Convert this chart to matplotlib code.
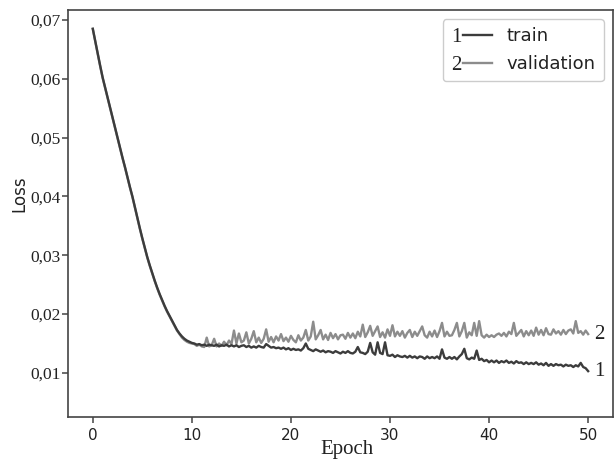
import numpy as np
import matplotlib
matplotlib.use("Agg")
import matplotlib.pyplot as plt
from matplotlib.lines import Line2D
from matplotlib.text import Text
from matplotlib.legend_handler import HandlerBase
from matplotlib.ticker import FuncFormatter

# ---------------- data (loss values in units of 1e-4) ----------------
epochs = np.linspace(0, 50, 201)  # 4 samples per epoch

train_descent = [685, 664, 643, 622, 602, 585, 568, 551, 534, 517, 500, 483, 466, 450, 433,
                 416, 400, 382, 364, 346, 329, 313, 297, 283, 270, 257, 245, 234, 224, 214,
                 205, 197, 189, 181, 173, 167, 162, 158, 155, 153, 151]
train_flat = [150, 148, 149, 147, 148, 146, 148, 147, 146, 148, 145, 147, 146, 148, 145, 147,
              145, 147, 144, 146, 147, 144, 146, 143, 145, 143, 146, 144, 143, 149, 146, 143,
              144, 142, 143, 141, 143, 140, 142, 139, 141, 139, 140, 138, 142, 150, 141, 139,
              137, 140, 138, 136, 138, 135, 137, 136, 134, 137, 135, 133, 136, 134, 137, 134,
              133, 136, 144, 135, 134, 132, 136, 151, 135, 131, 152, 134, 132, 152, 130, 129,
              131, 127, 130, 128, 127, 129, 126, 129, 126, 128, 125, 128, 127, 124, 128, 125,
              127, 125, 128, 124, 140, 126, 124, 127, 124, 127, 123, 128, 132, 141, 125, 123,
              126, 124, 138, 122, 124, 120, 122, 118, 121, 118, 121, 117, 120, 118, 121, 117,
              119, 116, 120, 117, 118, 115, 118, 115, 117, 115, 118, 114, 116, 113, 117, 112,
              115, 112, 115, 113, 114, 111, 114, 112, 113, 110, 113, 111, 117, 110, 108, 103]

val_descent = [685, 663, 642, 621, 601, 584, 567, 550, 533, 516, 499, 482, 465, 449, 432,
               415, 399, 381, 363, 345, 328, 312, 296, 282, 269, 256, 244, 233, 223, 213,
               204, 196, 188, 180, 172, 166, 160, 156, 153, 151, 150]
val_flat = [149, 146, 148, 145, 144, 160, 145, 147, 158, 145, 150, 146, 153, 147, 155, 149,
            172, 150, 167, 152, 155, 169, 150, 158, 171, 152, 160, 151, 158, 174, 153, 161,
            152, 162, 155, 166, 154, 160, 153, 163, 156, 152, 164, 155, 160, 173, 155, 162,
            187, 157, 164, 173, 157, 165, 156, 168, 159, 166, 157, 164, 165, 158, 168, 160,
            167, 159, 170, 162, 182, 161, 169, 180, 163, 171, 179, 161, 169, 160, 174, 163,
            181, 162, 170, 163, 171, 160, 168, 173, 161, 170, 163, 171, 179, 164, 160, 170,
            162, 172, 161, 171, 185, 162, 170, 163, 164, 173, 185, 162, 171, 185, 160, 169,
            164, 185, 163, 188, 164, 160, 165, 161, 164, 161, 165, 167, 163, 168, 162, 170,
            166, 185, 163, 168, 173, 162, 171, 164, 172, 163, 177, 165, 173, 164, 176, 166,
            165, 174, 167, 171, 165, 173, 166, 172, 174, 167, 188, 168, 171, 165, 172, 166]

train_loss = np.array(train_descent + train_flat) * 1e-4
val_loss = np.array(val_descent + val_flat) * 1e-4

series_labels = ["train", "validation"]
series_numbers = ["1", "2"]
x_ticks = [0, 10, 20, 30, 40, 50]
y_ticks = [0.01, 0.02, 0.03, 0.04, 0.05, 0.06, 0.07]

# ---------------- style ----------------
TRAIN_C = "#3c3c3c"
VAL_C = "#8c8c8c"
SERIF = ["Liberation Serif", "DejaVu Serif"]

fig = plt.figure(figsize=(6.15, 4.65), dpi=100)
ax = fig.add_axes([0.1106, 0.1032, 0.886, 0.8753])

lv, = ax.plot(epochs, val_loss, color=VAL_C, lw=1.7, zorder=2, label=series_labels[1])
lt, = ax.plot(epochs, train_loss, color=TRAIN_C, lw=1.7, zorder=3, label=series_labels[0])

ax.set_xlim(-2.5, 52.5)
ax.set_ylim(0.0025, 0.0717)
ax.set_xticks(x_ticks)
ax.set_yticks(y_ticks)
ax.yaxis.set_major_formatter(FuncFormatter(lambda v, p: f"{v:.2f}".replace(".", ",")))

for sp in ax.spines.values():
    sp.set_color("#444444")
    sp.set_linewidth(1.2)

ax.tick_params(axis="x", length=4, width=1.1, color="#444444", labelsize=11,
               labelcolor="#222222", pad=4)
ax.tick_params(axis="y", length=4, width=1.1, color="#444444", labelsize=12.5,
               labelcolor="#222222", pad=1)
for lab in ax.get_yticklabels():
    lab.set_fontfamily(SERIF)

ax.set_xlabel("Epoch", fontfamily=SERIF, fontsize=15, color="#222222")
ax.xaxis.set_label_coords(0.512, -0.056)
ax.set_ylabel("Loss", fontsize=12, color="#222222")
ax.yaxis.set_label_coords(-0.072, 0.548)

# numbers at the line ends
ax.text(50.6, train_loss[-1], series_numbers[0], fontfamily=SERIF, fontsize=15,
        ha="left", va="center", color="#222222")
ax.text(50.6, val_loss[-1], series_numbers[1], fontfamily=SERIF, fontsize=15,
        ha="left", va="center", color="#222222")


class NumberedHandler(HandlerBase):
    def __init__(self, num):
        super().__init__()
        self.num = num

    def create_artists(self, legend, orig_handle, xdescent, ydescent, width, height,
                       fontsize, trans):
        y = height / 2 - ydescent
        x0 = -xdescent
        line = Line2D([x0 + 0.3 * width, x0 + width], [y, y],
                      color=orig_handle.get_color(), lw=orig_handle.get_linewidth())
        line.set_transform(trans)
        t = Text(x0, y - 5.0, self.num, ha="left", va="baseline", fontfamily=SERIF,
                 fontsize=15, color="#222222")
        t.set_transform(trans)
        return [line, t]


leg = ax.legend([lt, lv], series_labels, loc="upper right", fontsize=13,
                handler_map={lt: NumberedHandler(series_numbers[0]),
                             lv: NumberedHandler(series_numbers[1])},
                handlelength=2.3, handletextpad=0.8, borderpad=0.45,
                labelspacing=0.55, borderaxespad=0.5, framealpha=1.0,
                edgecolor="#cccccc")
for t in leg.get_texts():
    t.set_color("#222222")

fig.savefig("out.png", dpi=100)
